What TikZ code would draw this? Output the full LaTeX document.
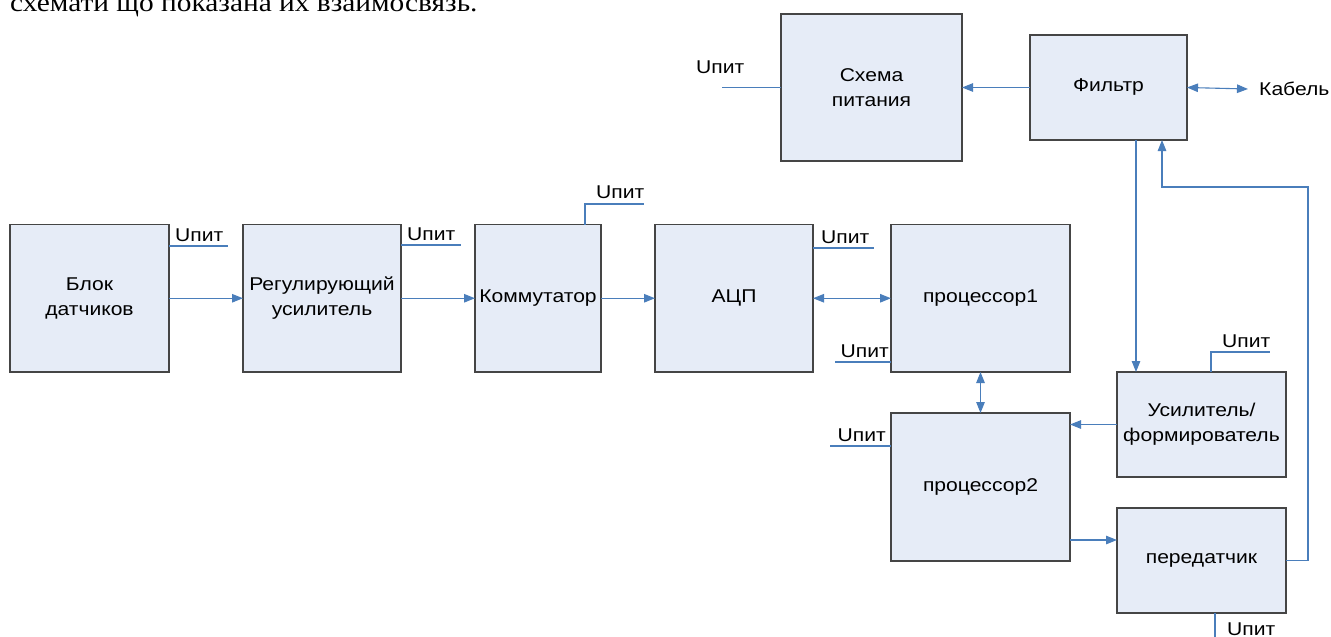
\documentclass[tikz,border=0pt]{standalone}
\usepackage{fontspec}
\setmainfont{Liberation Sans}[FakeStretch=1.14]
\newfontfamily\topserif{Liberation Serif}[FakeStretch=1.13]
\usetikzlibrary{arrows.meta,calc}
\definecolor{boxfill}{HTML}{E6ECF7}
\definecolor{boxline}{HTML}{454545}
\definecolor{wire}{HTML}{4A7EBB}
\begin{document}
\begin{tikzpicture}[x=1pt,y=-1pt,
  blk/.style={draw=boxline,fill=boxfill,line width=1.3pt,inner sep=0pt,outer sep=0pt,align=center,font=\fontsize{18.5}{25}\selectfont},
  wireline/.style={draw=wire,line width=1.1pt},
  arr/.style={wireline,-{Triangle[length=11pt,width=8.5pt]}},
  darr/.style={wireline,{Triangle[length=11pt,width=8.5pt]}-{Triangle[length=11pt,width=8.5pt]}},
  lbl/.style={inner sep=0pt,font=\fontsize{18.5}{21}\selectfont}]
\useasboundingbox (0,0) rectangle (1331,637);
\clip (0,0) rectangle (1331,637);
\fill[white] (0,0) rectangle (1331,637);

% cut-off line of text at the top
\node[anchor=base west,inner sep=0pt,font=\topserif\fontsize{26}{30}\selectfont] (toptext) at (10,12) {схемати що показана их взаимосвязь.};

% blocks
\node[blk,minimum width=159pt,minimum height=147.5pt] (bd) at (89.5,298.25) {Блок\\датчиков};
\node[blk,minimum width=158pt,minimum height=147.5pt] (rg) at (322,298.25) {Регулирующий\\усилитель};
\node[blk,minimum width=126pt,minimum height=147.5pt] (km) at (538,298.25) {Коммутатор};
\node[blk,minimum width=158pt,minimum height=147.5pt] (adc) at (734,298.25) {АЦП};
\node[blk,minimum width=179pt,minimum height=147.5pt] (p1) at (980.5,298.25) {процессор1};
\node[blk,minimum width=179pt,minimum height=148pt] (p2) at (980.5,487) {процессор2};
\node[blk,minimum width=169pt,minimum height=105pt] (us) at (1201.5,424.5) {Усилитель/\\формирователь};
\node[blk,minimum width=169pt,minimum height=105pt] (tx) at (1201.5,560.5) {передатчик};
\node[blk,minimum width=181pt,minimum height=147pt] (sp) at (871.5,87.5) {Схема\\питания};
\node[blk,minimum width=157pt,minimum height=105pt] (fl) at (1108.5,87.5) {Фильтр};
\node[lbl,anchor=west] (kab) at (1259,89) {Кабель};

% connectors
\draw[arr] (bd) -- (rg);
\draw[arr] (rg) -- (km);
\draw[arr] (km) -- (adc);
\draw[darr] (adc) -- (p1);
\draw[darr] (p1) -- (p2);
\draw[arr] (us.west) -- (us.west -| p2.east);
\draw[arr] ([yshift=-53pt]p2.east) -- ([yshift=-53pt]p2.east -| tx.west);
\draw[arr] (fl) -- (sp);
\draw[darr] (fl.east) -- ([xshift=-11pt]kab.west);
\draw[arr] ([xshift=27.5pt]fl.south) -- ([xshift=27.5pt]fl.south |- us.north);
\coordinate (fbc) at (1308,187);
\draw[arr] (tx.east) -| (fbc) -| ([xshift=53.5pt]fl.south);

% power stubs
\draw[wireline] (bd.east |- 0,246) -- ++(59,0);
\node[lbl,anchor=base west] (u1) at (175,241) {Uпит};
\draw[wireline] (rg.east |- 0,245) -- ++(60,0);
\node[lbl,anchor=base west] (u2) at (407,240) {Uпит};
\draw[wireline] (585,224.5) -- (585,204) -- (644,204);
\node[lbl,anchor=base west] (u3) at (596,198) {Uпит};
\draw[wireline] (adc.east |- 0,248) -- ++(61,0);
\node[lbl,anchor=base west] (u4) at (821,243) {Uпит};
\draw[wireline] (p1.west |- 0,362) -- ++(-56,0);
\node[lbl,anchor=base east] (u5) at (889,357) {Uпит};
\draw[wireline] (p2.west |- 0,446) -- ++(-61,0);
\node[lbl,anchor=base east] (u6) at (886,441) {Uпит};
\draw[wireline] (1211,372) -- (1211,352) -- (1270,352);
\node[lbl,anchor=base west] (u7) at (1222,347) {Uпит};
\draw[wireline] (1215,613) -- (1215,640);
\node[lbl,anchor=base west] (u8) at (1227,635) {Uпит};
\draw[wireline] (sp.west) -- ++(-59,0);
\node[lbl,anchor=base west] (u9) at (696,73) {Uпит};
\end{tikzpicture}
\end{document}
